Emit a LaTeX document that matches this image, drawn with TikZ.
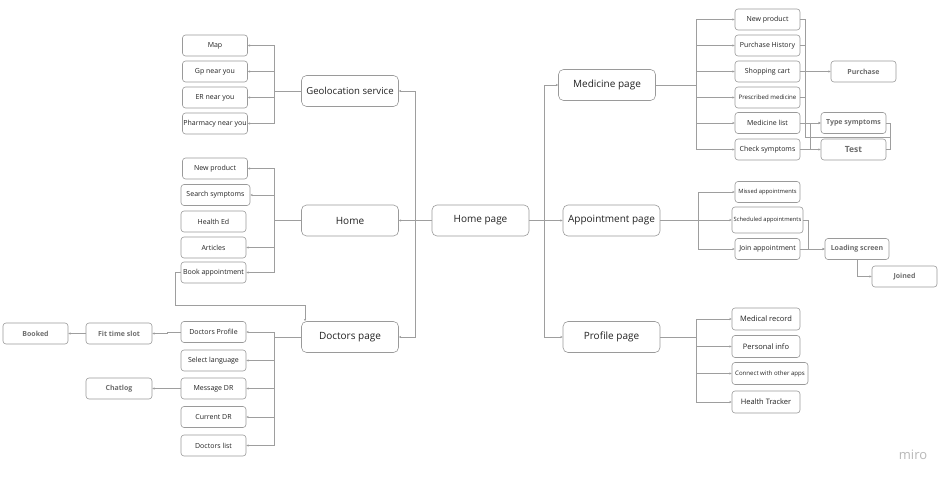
\documentclass[tikz,border=0pt]{standalone}
\usepackage{fontspec}
\setmainfont{Open Sans}
\usetikzlibrary{arrows.meta}
\definecolor{boxc}{HTML}{9A9A9A}
\definecolor{linec}{HTML}{9E9E9E}
\definecolor{txt}{HTML}{222222}
\definecolor{gtxt}{HTML}{6E6E6E}
\definecolor{mirog}{HTML}{B8B8B8}
\begin{document}
\begin{tikzpicture}[x=1pt,y=-1pt,
  box/.style={draw=boxc, rounded corners=3pt, line width=0.6pt, inner sep=0pt, minimum width=65pt, minimum height=21pt, font=\fontsize{7}{8}\selectfont, text=txt},
  main/.style={box, rounded corners=5pt, minimum width=97pt, minimum height=31pt, font=\fontsize{10}{12}\selectfont},
  tinyt/.style={font=\fontsize{5.8}{7}\selectfont},
  midt/.style={font=\fontsize{7.5}{9}\selectfont, minimum width=68pt, minimum height=22pt},
  grey/.style={text=gtxt, font=\fontsize{7}{8}\selectfont\bfseries},
  conn/.style={draw=linec, line width=0.6pt, -{Stealth[length=2.4pt,width=2.2pt]}},
  plain/.style={draw=linec, line width=0.6pt},
]
\fill[white] (0,0) rectangle (950,481);
\useasboundingbox (0,0) rectangle (950,481);

% main nodes
\node[main, font=\fontsize{9.6}{11}\selectfont] (geo) at (350,91) {Geolocation service};
\node[main] (home) at (350,220.5) {Home};
\node[main] (doc) at (350,337) {Doctors page};
\node[main] (hp) at (480.5,220.5) {Home page};
\node[main] (med) at (607,85) {Medicine page};
\node[main] (appt) at (611.5,220.5) {Appointment page};
\node[main] (prof) at (611.5,337) {Profile page};

% geolocation children
\node[box] (map) at (215,45.5) {Map};
\node[box] (gp) at (215,71.5) {Gp near you};
\node[box] (er) at (215,97.5) {ER near you};
\node[box] (pharm) at (215,123.5) {Pharmacy near you};

% home children
\node[box] (np1) at (215,168.5) {New product};
\node[box, minimum width=69pt] (search) at (215.5,195) {Search symptoms};
\node[box] (health) at (213.5,221.5) {Health Ed};
\node[box] (articles) at (213.5,247.5) {Articles};
\node[box] (book) at (213.5,272.5) {Book appointment};

% doctors children
\node[box] (dprof) at (213.5,332) {Doctors Profile};
\node[box] (lang) at (213.5,360.5) {Select language};
\node[box] (msg) at (213.5,388.5) {Message DR};
\node[box] (cur) at (213.5,417) {Current DR};
\node[box] (dlist) at (213.5,445.5) {Doctors list};
\node[box, grey, minimum width=66pt] (fit) at (119,333.5) {Fit time slot};
\node[box, grey] (booked) at (35.5,333.5) {Booked};
\node[box, grey, minimum width=66pt] (chat) at (119,388.5) {Chatlog};

% medicine children
\node[box] (np2) at (767.5,19.5) {New product};
\node[box] (ph) at (767.5,45.5) {Purchase History};
\node[box] (cart) at (767.5,71.5) {Shopping cart};
\node[box, font=\fontsize{6.1}{7}\selectfont] (presc) at (767.5,97.5) {Prescribed medicine};
\node[box] (mlist) at (767.5,123) {Medicine list};
\node[box] (check) at (767.5,149.5) {Check symptoms};
\node[box, grey] (purchase) at (863.5,71.5) {Purchase};
\node[box, grey] (type) at (853.5,123) {Type symptoms};
\node[box, grey, font=\fontsize{8.5}{10}\selectfont\bfseries] (test) at (853.5,149.5) {Test};

% appointment children
\node[box, tinyt] (missed) at (767.5,192) {Missed appointments};
\node[box, tinyt, minimum width=71pt, minimum height=26pt] (sched) at (767.5,220) {Scheduled appointments};
\node[box] (join) at (767.5,249) {Join appointment};
\node[box, grey, minimum width=64pt] (loading) at (857,249) {Loading screen};
\node[box, grey] (joined) at (904.5,276.5) {Joined};

% profile children
\node[box, midt] (medrec) at (766,319) {Medical record};
\node[box, midt] (pinfo) at (766,346.5) {Personal info};
\node[box, tinyt, minimum width=76pt, minimum height=22pt, font=\fontsize{6.1}{7}\selectfont] (connect) at (770,373.5) {Connect with other apps};
\node[box, midt] (htrack) at (766,402) {Health Tracker};

\node[text=mirog, font=\fontsize{13}{15}\selectfont] (miro) at (913,455) {miro};

% bracket coordinates
\coordinate (bl) at (274,0);
\coordinate (hl) at (415,0);
\coordinate (hr) at (544,0);
\coordinate (br) at (696,0);
\coordinate (ba) at (698,0);
\coordinate (jb) at (305,305);
\coordinate (j1) at (890,137);

% home page links
\draw[conn] (hp.west) -- (home.east);
\draw[conn] (hp.west) -- (hp.west -| hl) |- (geo.east);
\draw[conn] (hp.west) -- (hp.west -| hl) |- (doc.east);
\foreach \n in {med,appt,prof} \draw[conn] (hp.east) -- (hp.east -| hr) |- (\n.west);

% left brackets
\foreach \n in {map,gp,er,pharm} \draw[conn] (geo.west) -- (geo.west -| bl) |- (\n.east);
\foreach \n in {np1,search,articles,book} \draw[conn] (home.west) -- (home.west -| bl) |- (\n.east);
\foreach \n in {dprof,lang,msg,cur,dlist} \draw[conn] (doc.west) -- (doc.west -| bl) |- (\n.east);

% right brackets
\foreach \n in {np2,ph,cart,presc,mlist,check} \draw[conn] (med.east) -- (med.east -| br) |- (\n.west);
\foreach \n in {missed,sched,join} \draw[conn] (appt.east) -- (appt.east -| ba) |- (\n.west);
\foreach \n in {medrec,pinfo,connect,htrack} \draw[conn] (prof.east) -- (prof.east -| br) |- (\n.west);

% other links
\draw[conn] (book.west) -- ++(-5,0) |- (jb) -- (jb |- doc.north);
\draw[conn] (dprof.west) -- ++(-13,0) |- (fit.east);
\draw[conn] (fit.west) -- (booked.east);
\draw[conn] (msg.west) -- (chat.east);
\draw[conn] (cart.east) -- (purchase.west);
\draw[conn] (mlist.east) -- (type.west);
\draw[conn] (check.east) -- (test.west);
\draw[conn] (check.east) -- ++(10,0) |- (type.west);
\draw[plain] (np2.east) -- ++(5,0) |- (j1);
\draw[plain] (ph.east) -- ++(5,0);
\draw[plain] (presc.east) -- ++(5,0);
\draw[plain] (type.east) -| (j1);
\draw[plain] (test.east) -| (j1);
\draw[conn] (sched.east) -- ++(5,0) |- (loading.west);
\draw[conn] (join.east) -- (loading.west);
\draw[conn] (loading.south) |- (joined.west);
\end{tikzpicture}
\end{document}
